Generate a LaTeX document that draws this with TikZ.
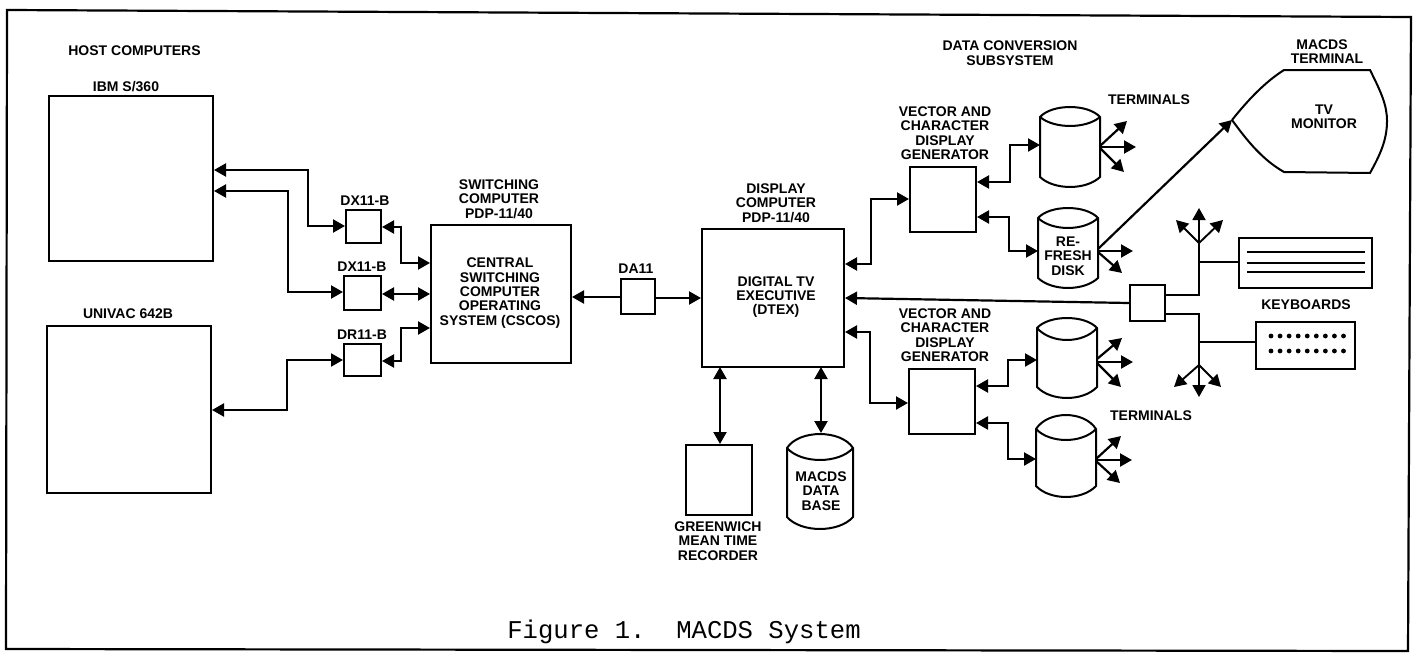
\documentclass[tikz,border=0pt]{standalone}
\usepackage{fontspec}
\setmainfont{Liberation Sans}[BoldFont={Liberation Sans Bold}]
\newfontfamily\capfont{Liberation Mono}
\usetikzlibrary{arrows.meta}
\tikzset{
 x=1pt,y=-1pt,
 every path/.style={line width=1.6pt,line join=miter},
 lab/.style={font=\fontsize{14}{14.4}\selectfont\bfseries,align=center,inner sep=0pt},
 bx/.style={draw=black,line width=2pt},
 dbl/.style={line width=2.2pt,{Triangle[length=12pt,width=13pt]}-{Triangle[length=12pt,width=13pt]}},
 one/.style={line width=2.2pt,-{Triangle[length=12pt,width=13pt]}},
 oneb/.style={line width=2.2pt,{Triangle[length=12pt,width=13pt]}-},
 thin line/.style={line width=1.9pt},
 kbarrow/.style={line width=1.9pt,-{Triangle[length=12pt,width=13pt]}},
}
% #1 name, #2 left, #3 right, #4 top peak, #5 side top, #6 inner, #7 side bottom, #8 bottom peak
\newcommand{\diskshape}[8]{%
 \coordinate (#1-w) at (#2,#5);
 \coordinate (#1-e) at (#3,#5);
 \coordinate (#1-sw) at (#2,#7);
 \coordinate (#1-se) at (#3,#7);
 \draw[bx] (#1-w) .. controls ({#2+12},{#5+(#4-#5)*1.33}) and ({#3-12},{#5+(#4-#5)*1.33}) .. (#1-e)
   -- (#1-se) .. controls ({#3-14},{#7+(#8-#7)*1.33}) and ({#2+14},{#7+(#8-#7)*1.33}) .. (#1-sw) -- cycle;
 \draw[bx] (#1-w) .. controls ({#2+14},{#5+(#6-#5)*1.33}) and ({#3-14},{#5+(#6-#5)*1.33}) .. (#1-e);
}
\begin{document}
\begin{tikzpicture}
\useasboundingbox (0,0) rectangle (1413,653);
\fill[white] (0,0) rectangle (1413,653);
% frame
\coordinate (f1) at (7,10); \coordinate (f2) at (1411,17);
\coordinate (f3) at (1408,651); \coordinate (f4) at (6,649);
\draw[line width=2.2pt] (f1) -- (f2) -- (f3) -- (f4) -- cycle;
% boxes
\node[bx,minimum width=164pt,minimum height=165pt,inner sep=0pt] (ibm) at (131,178.5) {};
\node[bx,minimum width=164pt,minimum height=167pt,inner sep=0pt] (uni) at (129,409.5) {};
\node[bx,minimum width=35pt,minimum height=33pt,inner sep=0pt] (dx1) at (363.5,226.5) {};
\node[bx,minimum width=37pt,minimum height=34pt,inner sep=0pt] (dx2) at (362.5,293) {};
\node[bx,minimum width=37pt,minimum height=32pt,inner sep=0pt] (dr) at (362.5,360) {};
\node[bx,minimum width=140pt,minimum height=138pt,inner sep=0pt] (cen) at (501,294) {};
\node[bx,minimum width=34pt,minimum height=35pt,inner sep=0pt] (da) at (638,296.5) {};
\node[bx,minimum width=142pt,minimum height=138pt,inner sep=0pt] (dtex) at (773,298) {};
\node[bx,minimum width=66pt,minimum height=65pt,inner sep=0pt] (vg1) at (943,199.5) {};
\node[bx,minimum width=66pt,minimum height=65pt,inner sep=0pt] (vg2) at (942,401.5) {};
\node[bx,minimum width=66pt,minimum height=70pt,inner sep=0pt] (gmt) at (719,480) {};
\node[bx,minimum width=35pt,minimum height=36pt,inner sep=0pt] (hub) at (1147.5,303) {};
\node[bx,minimum width=133pt,minimum height=50pt,inner sep=0pt] (kb1) at (1305,263) {};
\node[bx,minimum width=99pt,minimum height=47pt,inner sep=0pt] (kb2) at (1305.5,345.5) {};
% disks
\diskshape{d1}{1040}{1100}{107}{117}{126}{177}{187}
\diskshape{d2}{1038}{1098}{208}{218}{228}{278}{288}
\diskshape{d3}{1037}{1097}{318}{328}{340}{387}{398}
\diskshape{d4}{1036}{1096}{415}{429}{440}{486}{497}
\diskshape{db}{787}{853}{434}{448}{460}{517}{529}
% monitor
\coordinate (tv1) at (1232,120); \coordinate (tv2) at (1284,70); \coordinate (tv3) at (1370,70);
\coordinate (tv4) at (1370,173); \coordinate (tv5) at (1284,172);
\draw[bx] (tv1) .. controls (1248,100) and (1265,82) .. (tv2) -- (tv3)
  .. controls (1381,92) and (1387,105) .. (1387,121) .. controls (1387,140) and (1380,155) .. (tv4)
  -- (tv5) .. controls (1263,160) and (1248,142) .. (tv1);
% connector coordinates
\coordinate (a1) at (308,170); \coordinate (a2) at (308,226);
\coordinate (b1) at (288,191); \coordinate (b2) at (288,292);
\coordinate (c1) at (287,410); \coordinate (c2) at (287,360);
% host links
\draw[dbl] (ibm.east |- a1) -- (a1) -- (a2) -- (dx1.west |- a2);
\draw[dbl] (ibm.east |- b1) -- (b1) -- (b2) -- (dx2.west |- b2);
\draw[dbl] (uni.east |- c1) -- (c1) -- (c2) -- (dr.west |- c2);
% DX to central
\draw[dbl] (dx1.east |- 0,227) -- (401,227) -- (401,263) -- (cen.west |- 0,263);
\draw[dbl] (dx2.east |- 0,294) -- (cen.west |- 0,294);
\draw[dbl] (dr.east |- 0,361) -- (401,361) -- (401,328) -- (cen.west |- 0,328);
% DA11
\draw[oneb] (cen.east |- 0,297) -- (da.west |- 0,297);
\draw[one] (da.east |- 0,298) -- (dtex.west |- 0,298);
% DTEX to VGs
\draw[dbl] (dtex.east |- 0,264) -- (871,264) -- (871,199) -- (vg1.west |- 0,199);
\draw[dbl] (dtex.east |- 0,332) -- (870,332) -- (870,403) -- (vg2.west |- 0,403);
\draw[oneb] (dtex.east |- 0,298) -- (hub.west);
% DTEX down
\draw[dbl] (720,367) -- (gmt.north -| 720,0);
\draw[dbl] (821,367) -- (821,433);
% VG to disks
\draw[dbl] (vg1.east |- 0,182) -- (1010,182) -- (1010,145) -- (d1-w |- 0,145);
\draw[dbl] (vg1.east |- 0,217) -- (1009,217) -- (1009,251) -- (d2-w |- 0,251);
\draw[dbl] (vg2.east |- 0,386) -- (1008,386) -- (1008,360) -- (d3-w |- 0,360);
\draw[dbl] (vg2.east |- 0,423) -- (1008,423) -- (1008,459) -- (d4-w |- 0,459);
% fans
\draw[one] (1100,146) -- (1127,121);
\draw[one] (1100,147) -- (1136,147);
\draw[one] (1100,148) -- (1124,172);
\draw[one] (1098,251) -- (1133,251);
\draw[one] (1098,252) -- (1122,273);
\draw[one] (1098,249) -- (tv1);
\draw[one] (1097,359) -- (1122,338);
\draw[one] (1097,362) -- (1133,362);
\draw[one] (1097,363) -- (1121,387);
\draw[one] (1096,459) -- (1121,436);
\draw[one] (1096,460) -- (1132,460);
\draw[one] (1096,461) -- (1120,483);
% keyboards trees
\coordinate (t1) at (1199,243); \coordinate (t2) at (1199,365);
\draw[thin line] (hub.east |- 0,295) -- (1199,295) -- (t1);
\draw[thin line] (1199,262) -- (kb1.west |- 0,262);
\draw[kbarrow] (t1) -- (1199,208);
\draw[kbarrow] (t1) -- (1176,220);
\draw[kbarrow] (t1) -- (1223,220);
\draw[thin line] (hub.east |- 0,314) -- (1199,314) -- (t2);
\draw[thin line] (1199,342) -- (kb2.west |- 0,342);
\draw[kbarrow] (t2) -- (1199,397);
\draw[kbarrow] (t2) -- (1174,387);
\draw[kbarrow] (t2) -- (1221,387);
% keyboard marks
\foreach \yy in {252,263,272} \draw[thin line] (1247,\yy) -- (1365,\yy);
\foreach \yy in {336,351} \foreach \k in {0,...,8} \fill ({1271+\k*9.06},\yy) circle (2.4pt);
% labels
\node[lab] (l1) at (134.5,51) {HOST COMPUTERS};
\node[lab] (l2) at (126,87) {IBM S/360};
\node[lab] (l3) at (128,314) {UNIVAC 642B};
\node[lab] (l4) at (365,201) {DX11-B};
\node[lab] (l5) at (362,267) {DX11-B};
\node[lab] (l6) at (362,335) {DR11-B};
\node[lab] (l7) at (499,199) {SWITCHING\\COMPUTER\\PDP-11/40};
\node[lab] (l8) at (636,269) {DA11};
\node[lab] (l9) at (776,203) {DISPLAY\\COMPUTER\\PDP-11/40};
\node[lab] (l21) at (500,293) {CENTRAL\\SWITCHING\\COMPUTER\\OPERATING\\SYSTEM (CSCOS)};
\node[lab] (l22) at (776,297) {DIGITAL TV\\EXECUTIVE\\(DTEX)};
\node[lab] (l10) at (1010,53) {DATA CONVERSION\\SUBSYSTEM};
\node[lab] (l11a) at (1322,45) {MACDS};
\node[lab] (l11b) at (1327,59) {TERMINAL};
\node[lab] (l12) at (1324,117) {TV\\MONITOR};
\node[lab] (l13) at (1149,100) {TERMINALS};
\node[lab] (l14) at (1151,416) {TERMINALS};
\node[lab] (l15) at (945,133) {VECTOR AND\\CHARACTER\\DISPLAY\\GENERATOR};
\node[lab] (l16) at (945,335) {VECTOR AND\\CHARACTER\\DISPLAY\\GENERATOR};
\node[lab] (l17) at (1068,256) {RE-\\FRESH\\DISK};
\node[lab] (l18) at (1306,305) {KEYBOARDS};
\node[lab] (l19) at (821,491) {MACDS\\DATA\\BASE};
\node[lab] (l20) at (718,541) {GREENWICH\\MEAN TIME\\RECORDER};
\node[inner sep=0pt,font=\fontsize{25.6}{28}\selectfont\capfont] (cap) at (684,632) {Figure 1.\ \ MACDS System};
\end{tikzpicture}
\end{document}
